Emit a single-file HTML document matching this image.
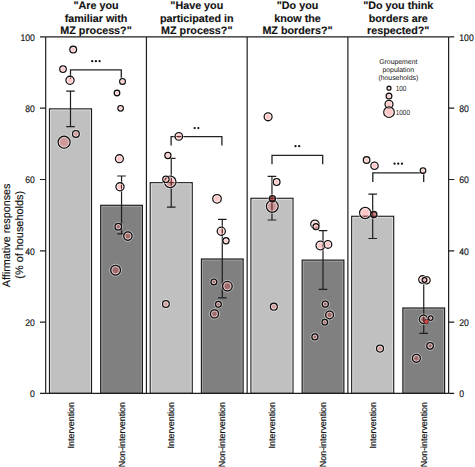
<!DOCTYPE html>
<html><head><meta charset="utf-8"><style>
html,body{margin:0;padding:0;background:#fff;}
svg{display:block;text-rendering:geometricPrecision;}
text{font-family:"Liberation Sans",sans-serif;fill:#111;}
.tk{font-size:9.6px;stroke:#111;stroke-width:0.15px;}
.ti{font-size:10.75px;font-weight:bold;stroke:#111;stroke-width:0.12px;}
.xl{font-size:8.9px;stroke:#111;stroke-width:0.18px;}
.yt{font-size:10.6px;stroke:#111;stroke-width:0.15px;}
.lg{font-size:6.9px;fill:#111;}
.lg2{font-size:7.4px;fill:#222;}
</style></head><body>
<svg width="475" height="467" viewBox="0 0 475 467">
<rect width="475" height="467" fill="#fff"/>
<rect x="49.5" y="108.9" width="42" height="284.5" fill="#c0c0c0" stroke="#1e1e1e" stroke-width="1.2"/>
<rect x="100.7" y="205.3" width="41.7" height="188.1" fill="#808080" stroke="#1e1e1e" stroke-width="1.2"/>
<path d="M50.55 392.4V109.95H90.45V392.4" fill="none" stroke="#fff" stroke-opacity="0.55" stroke-width="0.9"/>
<path d="M101.75 392.4V206.35H141.35V392.4" fill="none" stroke="#fff" stroke-opacity="0.3" stroke-width="0.9"/>
<rect x="150.23" y="182.7" width="42" height="210.7" fill="#c0c0c0" stroke="#1e1e1e" stroke-width="1.2"/>
<rect x="201.43" y="259" width="41.7" height="134.4" fill="#808080" stroke="#1e1e1e" stroke-width="1.2"/>
<path d="M151.28 392.4V183.75H191.18V392.4" fill="none" stroke="#fff" stroke-opacity="0.55" stroke-width="0.9"/>
<path d="M202.48 392.4V260.05H242.08V392.4" fill="none" stroke="#fff" stroke-opacity="0.3" stroke-width="0.9"/>
<rect x="250.96" y="198.3" width="42" height="195.1" fill="#c0c0c0" stroke="#1e1e1e" stroke-width="1.2"/>
<rect x="302.16" y="260.1" width="41.7" height="133.3" fill="#808080" stroke="#1e1e1e" stroke-width="1.2"/>
<path d="M252.01 392.4V199.35H291.91V392.4" fill="none" stroke="#fff" stroke-opacity="0.55" stroke-width="0.9"/>
<path d="M303.21 392.4V261.15H342.81V392.4" fill="none" stroke="#fff" stroke-opacity="0.3" stroke-width="0.9"/>
<rect x="351.69" y="216.3" width="42" height="177.1" fill="#c0c0c0" stroke="#1e1e1e" stroke-width="1.2"/>
<rect x="402.89" y="308" width="41.7" height="85.4" fill="#808080" stroke="#1e1e1e" stroke-width="1.2"/>
<path d="M352.74 392.4V217.35H392.64V392.4" fill="none" stroke="#fff" stroke-opacity="0.55" stroke-width="0.9"/>
<path d="M403.94 392.4V309.05H443.54V392.4" fill="none" stroke="#fff" stroke-opacity="0.3" stroke-width="0.9"/>
<path d="M70.5 91.2V126.6M66.2 91.2H74.8M66.2 126.6H74.8" stroke="#1e1e1e" stroke-width="1.2" fill="none"/>
<path d="M121.55 176V233.9M117.25 176H125.85M117.25 233.9H125.85" stroke="#1e1e1e" stroke-width="1.2" fill="none"/>
<path d="M171.23 158.3V207.2M166.93 158.3H175.53M166.93 207.2H175.53" stroke="#1e1e1e" stroke-width="1.2" fill="none"/>
<path d="M222.28 219.4V297.8M217.98 219.4H226.58M217.98 297.8H226.58" stroke="#1e1e1e" stroke-width="1.2" fill="none"/>
<path d="M271.96 176.4V220M267.66 176.4H276.26M267.66 220H276.26" stroke="#1e1e1e" stroke-width="1.2" fill="none"/>
<path d="M323.01 230.7V289.3M318.71 230.7H327.31M318.71 289.3H327.31" stroke="#1e1e1e" stroke-width="1.2" fill="none"/>
<path d="M372.69 194.2V238.5M368.39 194.2H376.99M368.39 238.5H376.99" stroke="#1e1e1e" stroke-width="1.2" fill="none"/>
<path d="M423.74 282.7V333.3M419.44 282.7H428.04M419.44 333.3H428.04" stroke="#1e1e1e" stroke-width="1.2" fill="none"/>
<path d="M70.5 78.8V69.8H121.3V78.8" stroke="#222" stroke-width="1.3" fill="none"/>
<circle cx="92.2" cy="61.2" r="1.15" fill="#111"/>
<circle cx="95.9" cy="61.2" r="1.15" fill="#111"/>
<circle cx="99.6" cy="61.2" r="1.15" fill="#111"/>
<path d="M171.1 145.6V136.6H221.9V145.6" stroke="#222" stroke-width="1.3" fill="none"/>
<circle cx="194.65" cy="128.1" r="1.15" fill="#111"/>
<circle cx="198.35" cy="128.1" r="1.15" fill="#111"/>
<path d="M272 164.3V155.3H322.7V164.3" stroke="#222" stroke-width="1.3" fill="none"/>
<circle cx="295.5" cy="146.2" r="1.15" fill="#111"/>
<circle cx="299.2" cy="146.2" r="1.15" fill="#111"/>
<path d="M372.8 181.9V172.9H423.7V181.9" stroke="#222" stroke-width="1.3" fill="none"/>
<circle cx="394.55" cy="163.7" r="1.15" fill="#111"/>
<circle cx="398.25" cy="163.7" r="1.15" fill="#111"/>
<circle cx="401.95" cy="163.7" r="1.15" fill="#111"/>
<path d="M45.7 36.9V393.4M448.62 36.9V393.4" stroke="#1e1e1e" stroke-width="1.2" fill="none"/>
<path d="M146.43 36.9V393.4" stroke="#1e1e1e" stroke-width="1.2" fill="none"/>
<path d="M247.16 36.9V393.4" stroke="#1e1e1e" stroke-width="1.2" fill="none"/>
<path d="M347.89 36.9V393.4" stroke="#1e1e1e" stroke-width="1.2" fill="none"/>
<path d="M45.7 36.9H448.62M45.7 393.4H448.62" stroke="#1e1e1e" stroke-width="1.2" fill="none"/>
<path d="M40 393.4H45.7M448.62 393.4H454.22" stroke="#1e1e1e" stroke-width="1.2" fill="none"/>
<text transform="translate(34.8 397.3) scale(0.9 1)" text-anchor="end" class="tk">0</text>
<text transform="translate(459.3 397.3) scale(0.9 1)" class="tk">0</text>
<path d="M40 322.1H45.7M448.62 322.1H454.22" stroke="#1e1e1e" stroke-width="1.2" fill="none"/>
<text transform="translate(34.8 326) scale(0.9 1)" text-anchor="end" class="tk">20</text>
<text transform="translate(459.3 326) scale(0.9 1)" class="tk">20</text>
<path d="M40 250.8H45.7M448.62 250.8H454.22" stroke="#1e1e1e" stroke-width="1.2" fill="none"/>
<text transform="translate(34.8 254.7) scale(0.9 1)" text-anchor="end" class="tk">40</text>
<text transform="translate(459.3 254.7) scale(0.9 1)" class="tk">40</text>
<path d="M40 179.5H45.7M448.62 179.5H454.22" stroke="#1e1e1e" stroke-width="1.2" fill="none"/>
<text transform="translate(34.8 183.4) scale(0.9 1)" text-anchor="end" class="tk">60</text>
<text transform="translate(459.3 183.4) scale(0.9 1)" class="tk">60</text>
<path d="M40 108.2H45.7M448.62 108.2H454.22" stroke="#1e1e1e" stroke-width="1.2" fill="none"/>
<text transform="translate(34.8 112.1) scale(0.9 1)" text-anchor="end" class="tk">80</text>
<text transform="translate(459.3 112.1) scale(0.9 1)" class="tk">80</text>
<path d="M40 36.9H45.7M448.62 36.9H454.22" stroke="#1e1e1e" stroke-width="1.2" fill="none"/>
<text transform="translate(34.8 40.8) scale(0.9 1)" text-anchor="end" class="tk">100</text>
<text transform="translate(459.3 40.8) scale(0.9 1)" class="tk">100</text>
<circle cx="73.2" cy="49.6" r="4.45" fill="none" stroke="#fff" stroke-opacity="0.55" stroke-width="0.9"/>
<circle cx="73.2" cy="49.6" r="3.35" fill="rgba(250,50,50,0.27)" stroke="#111" stroke-width="1.3"/>
<circle cx="73.2" cy="49.6" r="2.25" fill="none" stroke="#fff" stroke-opacity="0.7" stroke-width="0.9"/>
<circle cx="63" cy="69.1" r="4.35" fill="none" stroke="#fff" stroke-opacity="0.55" stroke-width="0.9"/>
<circle cx="63" cy="69.1" r="3.25" fill="rgba(250,50,50,0.27)" stroke="#111" stroke-width="1.3"/>
<circle cx="63" cy="69.1" r="2.15" fill="none" stroke="#fff" stroke-opacity="0.7" stroke-width="0.9"/>
<circle cx="70" cy="80.3" r="5.15" fill="none" stroke="#fff" stroke-opacity="0.55" stroke-width="0.9"/>
<circle cx="70" cy="80.3" r="4.05" fill="rgba(250,50,50,0.27)" stroke="#111" stroke-width="1.3"/>
<circle cx="70" cy="80.3" r="2.95" fill="none" stroke="#fff" stroke-opacity="0.7" stroke-width="0.9"/>
<circle cx="75.9" cy="133.9" r="4.45" fill="none" stroke="#fff" stroke-opacity="0.55" stroke-width="0.9"/>
<circle cx="75.9" cy="133.9" r="3.35" fill="rgba(250,50,50,0.27)" stroke="#111" stroke-width="1.3"/>
<circle cx="75.9" cy="133.9" r="2.25" fill="none" stroke="#fff" stroke-opacity="0.7" stroke-width="0.9"/>
<circle cx="64.1" cy="142.2" r="7.05" fill="none" stroke="#fff" stroke-opacity="0.55" stroke-width="0.9"/>
<circle cx="64.1" cy="142.2" r="5.95" fill="rgba(250,50,50,0.27)" stroke="#111" stroke-width="1.3"/>
<circle cx="64.1" cy="142.2" r="4.85" fill="none" stroke="#fff" stroke-opacity="0.7" stroke-width="0.9"/>
<circle cx="122.5" cy="81.4" r="3.95" fill="none" stroke="#fff" stroke-opacity="0.55" stroke-width="0.9"/>
<circle cx="122.5" cy="81.4" r="2.85" fill="rgba(250,50,50,0.27)" stroke="#111" stroke-width="1.3"/>
<circle cx="122.5" cy="81.4" r="1.75" fill="none" stroke="#fff" stroke-opacity="0.7" stroke-width="0.9"/>
<circle cx="117" cy="93" r="3.85" fill="none" stroke="#fff" stroke-opacity="0.55" stroke-width="0.9"/>
<circle cx="117" cy="93" r="2.75" fill="rgba(250,50,50,0.27)" stroke="#111" stroke-width="1.3"/>
<circle cx="117" cy="93" r="1.65" fill="none" stroke="#fff" stroke-opacity="0.7" stroke-width="0.9"/>
<circle cx="120.6" cy="108.3" r="3.85" fill="none" stroke="#fff" stroke-opacity="0.55" stroke-width="0.9"/>
<circle cx="120.6" cy="108.3" r="2.75" fill="rgba(250,50,50,0.27)" stroke="#111" stroke-width="1.3"/>
<circle cx="120.6" cy="108.3" r="1.65" fill="none" stroke="#fff" stroke-opacity="0.7" stroke-width="0.9"/>
<circle cx="119.4" cy="158.7" r="5.05" fill="none" stroke="#fff" stroke-opacity="0.55" stroke-width="0.9"/>
<circle cx="119.4" cy="158.7" r="3.95" fill="rgba(250,50,50,0.27)" stroke="#111" stroke-width="1.3"/>
<circle cx="119.4" cy="158.7" r="2.85" fill="none" stroke="#fff" stroke-opacity="0.7" stroke-width="0.9"/>
<circle cx="120" cy="186.8" r="5.15" fill="none" stroke="#fff" stroke-opacity="0.55" stroke-width="0.9"/>
<circle cx="120" cy="186.8" r="4.05" fill="rgba(250,50,50,0.27)" stroke="#111" stroke-width="1.3"/>
<circle cx="120" cy="186.8" r="2.95" fill="none" stroke="#fff" stroke-opacity="0.7" stroke-width="0.9"/>
<circle cx="118.3" cy="226.7" r="4.35" fill="none" stroke="#fff" stroke-opacity="0.55" stroke-width="0.9"/>
<circle cx="118.3" cy="226.7" r="3.25" fill="rgba(250,50,50,0.27)" stroke="#111" stroke-width="1.3"/>
<circle cx="118.3" cy="226.7" r="2.15" fill="none" stroke="#fff" stroke-opacity="0.7" stroke-width="0.9"/>
<circle cx="127.9" cy="236.1" r="5.25" fill="none" stroke="#fff" stroke-opacity="0.55" stroke-width="0.9"/>
<circle cx="127.9" cy="236.1" r="4.15" fill="rgba(250,50,50,0.27)" stroke="#111" stroke-width="1.3"/>
<circle cx="127.9" cy="236.1" r="3.05" fill="none" stroke="#fff" stroke-opacity="0.7" stroke-width="0.9"/>
<circle cx="115.6" cy="270.2" r="5.95" fill="none" stroke="#fff" stroke-opacity="0.55" stroke-width="0.9"/>
<circle cx="115.6" cy="270.2" r="4.85" fill="rgba(250,50,50,0.27)" stroke="#111" stroke-width="1.3"/>
<circle cx="115.6" cy="270.2" r="3.75" fill="none" stroke="#fff" stroke-opacity="0.7" stroke-width="0.9"/>
<circle cx="178.8" cy="136.4" r="4.85" fill="none" stroke="#fff" stroke-opacity="0.55" stroke-width="0.9"/>
<circle cx="178.8" cy="136.4" r="3.75" fill="rgba(250,50,50,0.27)" stroke="#111" stroke-width="1.3"/>
<circle cx="178.8" cy="136.4" r="2.65" fill="none" stroke="#fff" stroke-opacity="0.7" stroke-width="0.9"/>
<circle cx="167.9" cy="155.5" r="4.15" fill="none" stroke="#fff" stroke-opacity="0.55" stroke-width="0.9"/>
<circle cx="167.9" cy="155.5" r="3.05" fill="rgba(250,50,50,0.27)" stroke="#111" stroke-width="1.3"/>
<circle cx="167.9" cy="155.5" r="1.95" fill="none" stroke="#fff" stroke-opacity="0.7" stroke-width="0.9"/>
<circle cx="170.2" cy="181.8" r="6.85" fill="none" stroke="#fff" stroke-opacity="0.55" stroke-width="0.9"/>
<circle cx="170.2" cy="181.8" r="5.75" fill="rgba(250,50,50,0.27)" stroke="#111" stroke-width="1.3"/>
<circle cx="170.2" cy="181.8" r="4.65" fill="none" stroke="#fff" stroke-opacity="0.7" stroke-width="0.9"/>
<circle cx="165.9" cy="179.3" r="4.25" fill="none" stroke="#fff" stroke-opacity="0.55" stroke-width="0.9"/>
<circle cx="165.9" cy="179.3" r="3.15" fill="rgba(250,50,50,0.27)" stroke="#111" stroke-width="1.3"/>
<circle cx="165.9" cy="179.3" r="2.05" fill="none" stroke="#fff" stroke-opacity="0.7" stroke-width="0.9"/>
<circle cx="165.9" cy="304" r="4.45" fill="none" stroke="#fff" stroke-opacity="0.55" stroke-width="0.9"/>
<circle cx="165.9" cy="304" r="3.35" fill="rgba(250,50,50,0.27)" stroke="#111" stroke-width="1.3"/>
<circle cx="165.9" cy="304" r="2.25" fill="none" stroke="#fff" stroke-opacity="0.7" stroke-width="0.9"/>
<circle cx="217" cy="198.8" r="5.35" fill="none" stroke="#fff" stroke-opacity="0.55" stroke-width="0.9"/>
<circle cx="217" cy="198.8" r="4.25" fill="rgba(250,50,50,0.27)" stroke="#111" stroke-width="1.3"/>
<circle cx="217" cy="198.8" r="3.15" fill="none" stroke="#fff" stroke-opacity="0.7" stroke-width="0.9"/>
<circle cx="221.3" cy="231.2" r="5.15" fill="none" stroke="#fff" stroke-opacity="0.55" stroke-width="0.9"/>
<circle cx="221.3" cy="231.2" r="4.05" fill="rgba(250,50,50,0.27)" stroke="#111" stroke-width="1.3"/>
<circle cx="221.3" cy="231.2" r="2.95" fill="none" stroke="#fff" stroke-opacity="0.7" stroke-width="0.9"/>
<circle cx="226" cy="240.8" r="4.15" fill="none" stroke="#fff" stroke-opacity="0.55" stroke-width="0.9"/>
<circle cx="226" cy="240.8" r="3.05" fill="rgba(250,50,50,0.27)" stroke="#111" stroke-width="1.3"/>
<circle cx="226" cy="240.8" r="1.95" fill="none" stroke="#fff" stroke-opacity="0.7" stroke-width="0.9"/>
<circle cx="213.9" cy="281.9" r="3.95" fill="none" stroke="#fff" stroke-opacity="0.55" stroke-width="0.9"/>
<circle cx="213.9" cy="281.9" r="2.85" fill="rgba(250,50,50,0.27)" stroke="#111" stroke-width="1.3"/>
<circle cx="213.9" cy="281.9" r="1.75" fill="none" stroke="#fff" stroke-opacity="0.7" stroke-width="0.9"/>
<circle cx="227.4" cy="286.2" r="5.85" fill="none" stroke="#fff" stroke-opacity="0.55" stroke-width="0.9"/>
<circle cx="227.4" cy="286.2" r="4.75" fill="rgba(250,50,50,0.27)" stroke="#111" stroke-width="1.3"/>
<circle cx="227.4" cy="286.2" r="3.65" fill="none" stroke="#fff" stroke-opacity="0.7" stroke-width="0.9"/>
<circle cx="218.4" cy="304.3" r="3.95" fill="none" stroke="#fff" stroke-opacity="0.55" stroke-width="0.9"/>
<circle cx="218.4" cy="304.3" r="2.85" fill="rgba(250,50,50,0.27)" stroke="#111" stroke-width="1.3"/>
<circle cx="218.4" cy="304.3" r="1.75" fill="none" stroke="#fff" stroke-opacity="0.7" stroke-width="0.9"/>
<circle cx="214.5" cy="313.9" r="5.15" fill="none" stroke="#fff" stroke-opacity="0.55" stroke-width="0.9"/>
<circle cx="214.5" cy="313.9" r="4.05" fill="rgba(250,50,50,0.27)" stroke="#111" stroke-width="1.3"/>
<circle cx="214.5" cy="313.9" r="2.95" fill="none" stroke="#fff" stroke-opacity="0.7" stroke-width="0.9"/>
<circle cx="268.1" cy="116.8" r="5.05" fill="none" stroke="#fff" stroke-opacity="0.55" stroke-width="0.9"/>
<circle cx="268.1" cy="116.8" r="3.95" fill="rgba(250,50,50,0.27)" stroke="#111" stroke-width="1.3"/>
<circle cx="268.1" cy="116.8" r="2.85" fill="none" stroke="#fff" stroke-opacity="0.7" stroke-width="0.9"/>
<circle cx="276.6" cy="182" r="4.45" fill="none" stroke="#fff" stroke-opacity="0.55" stroke-width="0.9"/>
<circle cx="276.6" cy="182" r="3.35" fill="rgba(250,50,50,0.27)" stroke="#111" stroke-width="1.3"/>
<circle cx="276.6" cy="182" r="2.25" fill="none" stroke="#fff" stroke-opacity="0.7" stroke-width="0.9"/>
<circle cx="272.3" cy="206.3" r="6.95" fill="none" stroke="#fff" stroke-opacity="0.55" stroke-width="0.9"/>
<circle cx="272.3" cy="206.3" r="5.85" fill="rgba(250,50,50,0.27)" stroke="#111" stroke-width="1.3"/>
<circle cx="272.3" cy="206.3" r="4.75" fill="none" stroke="#fff" stroke-opacity="0.7" stroke-width="0.9"/>
<circle cx="272.4" cy="198.7" r="4.15" fill="none" stroke="#fff" stroke-opacity="0.55" stroke-width="0.9"/>
<circle cx="272.4" cy="198.7" r="3.05" fill="rgba(175,45,45,0.6)" stroke="#111" stroke-width="1.3"/>
<circle cx="273.8" cy="306.7" r="4.55" fill="none" stroke="#fff" stroke-opacity="0.55" stroke-width="0.9"/>
<circle cx="273.8" cy="306.7" r="3.45" fill="rgba(250,50,50,0.27)" stroke="#111" stroke-width="1.3"/>
<circle cx="273.8" cy="306.7" r="2.35" fill="none" stroke="#fff" stroke-opacity="0.7" stroke-width="0.9"/>
<circle cx="314.9" cy="224.2" r="5.25" fill="none" stroke="#fff" stroke-opacity="0.55" stroke-width="0.9"/>
<circle cx="314.9" cy="224.2" r="4.15" fill="rgba(250,50,50,0.27)" stroke="#111" stroke-width="1.3"/>
<circle cx="314.9" cy="224.2" r="3.05" fill="none" stroke="#fff" stroke-opacity="0.7" stroke-width="0.9"/>
<circle cx="316" cy="226.7" r="4.05" fill="none" stroke="#fff" stroke-opacity="0.55" stroke-width="0.9"/>
<circle cx="316" cy="226.7" r="2.95" fill="rgba(250,50,50,0.27)" stroke="#111" stroke-width="1.3"/>
<circle cx="316" cy="226.7" r="1.85" fill="none" stroke="#fff" stroke-opacity="0.7" stroke-width="0.9"/>
<circle cx="320.4" cy="245.5" r="5.45" fill="none" stroke="#fff" stroke-opacity="0.55" stroke-width="0.9"/>
<circle cx="320.4" cy="245.5" r="4.35" fill="rgba(250,50,50,0.27)" stroke="#111" stroke-width="1.3"/>
<circle cx="320.4" cy="245.5" r="3.25" fill="none" stroke="#fff" stroke-opacity="0.7" stroke-width="0.9"/>
<circle cx="327.9" cy="244.4" r="4.95" fill="none" stroke="#fff" stroke-opacity="0.55" stroke-width="0.9"/>
<circle cx="327.9" cy="244.4" r="3.85" fill="rgba(250,50,50,0.27)" stroke="#111" stroke-width="1.3"/>
<circle cx="327.9" cy="244.4" r="2.75" fill="none" stroke="#fff" stroke-opacity="0.7" stroke-width="0.9"/>
<circle cx="325.3" cy="304.1" r="4.15" fill="none" stroke="#fff" stroke-opacity="0.55" stroke-width="0.9"/>
<circle cx="325.3" cy="304.1" r="3.05" fill="rgba(250,50,50,0.27)" stroke="#111" stroke-width="1.3"/>
<circle cx="325.3" cy="304.1" r="1.95" fill="none" stroke="#fff" stroke-opacity="0.7" stroke-width="0.9"/>
<circle cx="329.6" cy="314.9" r="4.95" fill="none" stroke="#fff" stroke-opacity="0.55" stroke-width="0.9"/>
<circle cx="329.6" cy="314.9" r="3.85" fill="rgba(250,50,50,0.27)" stroke="#111" stroke-width="1.3"/>
<circle cx="329.6" cy="314.9" r="2.75" fill="none" stroke="#fff" stroke-opacity="0.7" stroke-width="0.9"/>
<circle cx="324.8" cy="322.2" r="3.85" fill="none" stroke="#fff" stroke-opacity="0.55" stroke-width="0.9"/>
<circle cx="324.8" cy="322.2" r="2.75" fill="rgba(250,50,50,0.27)" stroke="#111" stroke-width="1.3"/>
<circle cx="324.8" cy="322.2" r="1.65" fill="none" stroke="#fff" stroke-opacity="0.7" stroke-width="0.9"/>
<circle cx="314.9" cy="336.9" r="4.05" fill="none" stroke="#fff" stroke-opacity="0.55" stroke-width="0.9"/>
<circle cx="314.9" cy="336.9" r="2.95" fill="rgba(250,50,50,0.27)" stroke="#111" stroke-width="1.3"/>
<circle cx="314.9" cy="336.9" r="1.85" fill="none" stroke="#fff" stroke-opacity="0.7" stroke-width="0.9"/>
<circle cx="366.6" cy="160" r="4.35" fill="none" stroke="#fff" stroke-opacity="0.55" stroke-width="0.9"/>
<circle cx="366.6" cy="160" r="3.25" fill="rgba(250,50,50,0.27)" stroke="#111" stroke-width="1.3"/>
<circle cx="366.6" cy="160" r="2.15" fill="none" stroke="#fff" stroke-opacity="0.7" stroke-width="0.9"/>
<circle cx="374.5" cy="165.7" r="4.75" fill="none" stroke="#fff" stroke-opacity="0.55" stroke-width="0.9"/>
<circle cx="374.5" cy="165.7" r="3.65" fill="rgba(250,50,50,0.27)" stroke="#111" stroke-width="1.3"/>
<circle cx="374.5" cy="165.7" r="2.55" fill="none" stroke="#fff" stroke-opacity="0.7" stroke-width="0.9"/>
<circle cx="365.2" cy="213" r="6.65" fill="none" stroke="#fff" stroke-opacity="0.55" stroke-width="0.9"/>
<circle cx="365.2" cy="213" r="5.55" fill="rgba(250,50,50,0.27)" stroke="#111" stroke-width="1.3"/>
<circle cx="365.2" cy="213" r="4.45" fill="none" stroke="#fff" stroke-opacity="0.7" stroke-width="0.9"/>
<circle cx="373.8" cy="214.6" r="4.2" fill="none" stroke="#fff" stroke-opacity="0.55" stroke-width="0.9"/>
<circle cx="373.8" cy="214.6" r="3.1" fill="rgba(170,50,50,0.55)" stroke="#111" stroke-width="1.3"/>
<circle cx="380" cy="348.6" r="4.55" fill="none" stroke="#fff" stroke-opacity="0.55" stroke-width="0.9"/>
<circle cx="380" cy="348.6" r="3.45" fill="rgba(250,50,50,0.27)" stroke="#111" stroke-width="1.3"/>
<circle cx="380" cy="348.6" r="2.35" fill="none" stroke="#fff" stroke-opacity="0.7" stroke-width="0.9"/>
<circle cx="423" cy="170.6" r="3.85" fill="none" stroke="#fff" stroke-opacity="0.55" stroke-width="0.9"/>
<circle cx="423" cy="170.6" r="2.75" fill="rgba(250,50,50,0.27)" stroke="#111" stroke-width="1.3"/>
<circle cx="423" cy="170.6" r="1.65" fill="none" stroke="#fff" stroke-opacity="0.7" stroke-width="0.9"/>
<circle cx="422.5" cy="279.5" r="4.85" fill="none" stroke="#fff" stroke-opacity="0.55" stroke-width="0.9"/>
<circle cx="422.5" cy="279.5" r="3.75" fill="rgba(250,50,50,0.27)" stroke="#111" stroke-width="1.3"/>
<circle cx="422.5" cy="279.5" r="2.65" fill="none" stroke="#fff" stroke-opacity="0.7" stroke-width="0.9"/>
<circle cx="426.5" cy="280.3" r="4.75" fill="none" stroke="#fff" stroke-opacity="0.55" stroke-width="0.9"/>
<circle cx="426.5" cy="280.3" r="3.65" fill="rgba(250,50,50,0.27)" stroke="#111" stroke-width="1.3"/>
<circle cx="426.5" cy="280.3" r="2.55" fill="none" stroke="#fff" stroke-opacity="0.7" stroke-width="0.9"/>
<circle cx="424.5" cy="280" r="3.45" fill="none" stroke="#fff" stroke-opacity="0.55" stroke-width="0.9"/>
<circle cx="424.5" cy="280" r="2.35" fill="rgba(250,50,50,0.27)" stroke="#111" stroke-width="1.3"/>
<circle cx="424.5" cy="280" r="1.25" fill="none" stroke="#fff" stroke-opacity="0.7" stroke-width="0.9"/>
<circle cx="423.5" cy="319.3" r="5.25" fill="none" stroke="#fff" stroke-opacity="0.55" stroke-width="0.9"/>
<circle cx="423.5" cy="319.3" r="4.15" fill="rgba(250,50,50,0.27)" stroke="#111" stroke-width="1.3"/>
<circle cx="423.5" cy="319.3" r="3.05" fill="none" stroke="#fff" stroke-opacity="0.7" stroke-width="0.9"/>
<circle cx="430.7" cy="318.1" r="3.35" fill="none" stroke="#fff" stroke-opacity="0.55" stroke-width="0.9"/>
<circle cx="430.7" cy="318.1" r="2.25" fill="rgba(250,50,50,0.27)" stroke="#111" stroke-width="1.3"/>
<circle cx="430.7" cy="318.1" r="1.15" fill="none" stroke="#fff" stroke-opacity="0.7" stroke-width="0.9"/>
<circle cx="430.1" cy="345.8" r="4.35" fill="none" stroke="#fff" stroke-opacity="0.55" stroke-width="0.9"/>
<circle cx="430.1" cy="345.8" r="3.25" fill="rgba(250,50,50,0.27)" stroke="#111" stroke-width="1.3"/>
<circle cx="430.1" cy="345.8" r="2.15" fill="none" stroke="#fff" stroke-opacity="0.7" stroke-width="0.9"/>
<circle cx="416.4" cy="358.3" r="5.05" fill="none" stroke="#fff" stroke-opacity="0.55" stroke-width="0.9"/>
<circle cx="416.4" cy="358.3" r="3.95" fill="rgba(250,50,50,0.27)" stroke="#111" stroke-width="1.3"/>
<circle cx="416.4" cy="358.3" r="2.85" fill="none" stroke="#fff" stroke-opacity="0.7" stroke-width="0.9"/>
<circle cx="426.3" cy="321.6" r="2.2" fill="#d04848" stroke="#3a1010" stroke-width="0.6"/>
<text x="96.06" y="9.3" text-anchor="middle" class="ti">"Are you</text>
<text x="96.06" y="21.75" text-anchor="middle" class="ti">familiar with</text>
<text x="96.06" y="34.15" text-anchor="middle" class="ti">MZ process?"</text>
<text x="196.79" y="9.3" text-anchor="middle" class="ti">"Have you</text>
<text x="196.79" y="21.75" text-anchor="middle" class="ti">participated in</text>
<text x="196.79" y="34.15" text-anchor="middle" class="ti">MZ process?"</text>
<text x="297.52" y="9.3" text-anchor="middle" class="ti">"Do you</text>
<text x="297.52" y="21.75" text-anchor="middle" class="ti">know the</text>
<text x="297.52" y="34.15" text-anchor="middle" class="ti">MZ borders?"</text>
<text x="398.25" y="9.3" text-anchor="middle" class="ti">"Do you think</text>
<text x="398.25" y="21.75" text-anchor="middle" class="ti">borders are</text>
<text x="398.25" y="34.15" text-anchor="middle" class="ti">respected?"</text>
<text transform="translate(73.6 402) rotate(-90)" text-anchor="end" class="xl">Intervention</text>
<text transform="translate(124.65 402) rotate(-90)" text-anchor="end" class="xl">Non-intervention</text>
<text transform="translate(174.33 402) rotate(-90)" text-anchor="end" class="xl">Intervention</text>
<text transform="translate(225.38 402) rotate(-90)" text-anchor="end" class="xl">Non-intervention</text>
<text transform="translate(275.06 402) rotate(-90)" text-anchor="end" class="xl">Intervention</text>
<text transform="translate(326.11 402) rotate(-90)" text-anchor="end" class="xl">Non-intervention</text>
<text transform="translate(375.79 402) rotate(-90)" text-anchor="end" class="xl">Intervention</text>
<text transform="translate(426.84 402) rotate(-90)" text-anchor="end" class="xl">Non-intervention</text>
<text transform="translate(9.5 235.35) rotate(-90)" text-anchor="middle" class="yt" style="font-size:10.8px">Affirmative responses</text>
<text transform="translate(23.0 234.8) rotate(-90)" text-anchor="middle" class="yt" style="font-size:10.9px">(% of households)</text>
<text x="398.3" y="63.8" text-anchor="middle" class="lg">Groupement</text>
<text x="398.3" y="71.7" text-anchor="middle" class="lg">population</text>
<text x="398.3" y="79.6" text-anchor="middle" class="lg">(households)</text>
<circle cx="389" cy="88.2" r="1.95" fill="rgba(250,50,50,0.27)" stroke="#111" stroke-width="1.3"/>
<circle cx="389" cy="88.2" r="0.85" fill="none" stroke="#fff" stroke-opacity="0.7" stroke-width="0.9"/>
<circle cx="389" cy="96.1" r="2.85" fill="rgba(250,50,50,0.27)" stroke="#111" stroke-width="1.3"/>
<circle cx="389" cy="96.1" r="1.75" fill="none" stroke="#fff" stroke-opacity="0.7" stroke-width="0.9"/>
<circle cx="389" cy="104.3" r="3.95" fill="rgba(250,50,50,0.27)" stroke="#111" stroke-width="1.3"/>
<circle cx="389" cy="104.3" r="2.85" fill="none" stroke="#fff" stroke-opacity="0.7" stroke-width="0.9"/>
<circle cx="389" cy="112.2" r="5.25" fill="rgba(250,50,50,0.27)" stroke="#111" stroke-width="1.3"/>
<circle cx="389" cy="112.2" r="4.15" fill="none" stroke="#fff" stroke-opacity="0.7" stroke-width="0.9"/>
<text transform="translate(395.8 91) scale(0.86 1)" class="lg2">100</text>
<text transform="translate(395.8 115) scale(0.86 1)" class="lg2">1000</text>
</svg>
</body></html>
